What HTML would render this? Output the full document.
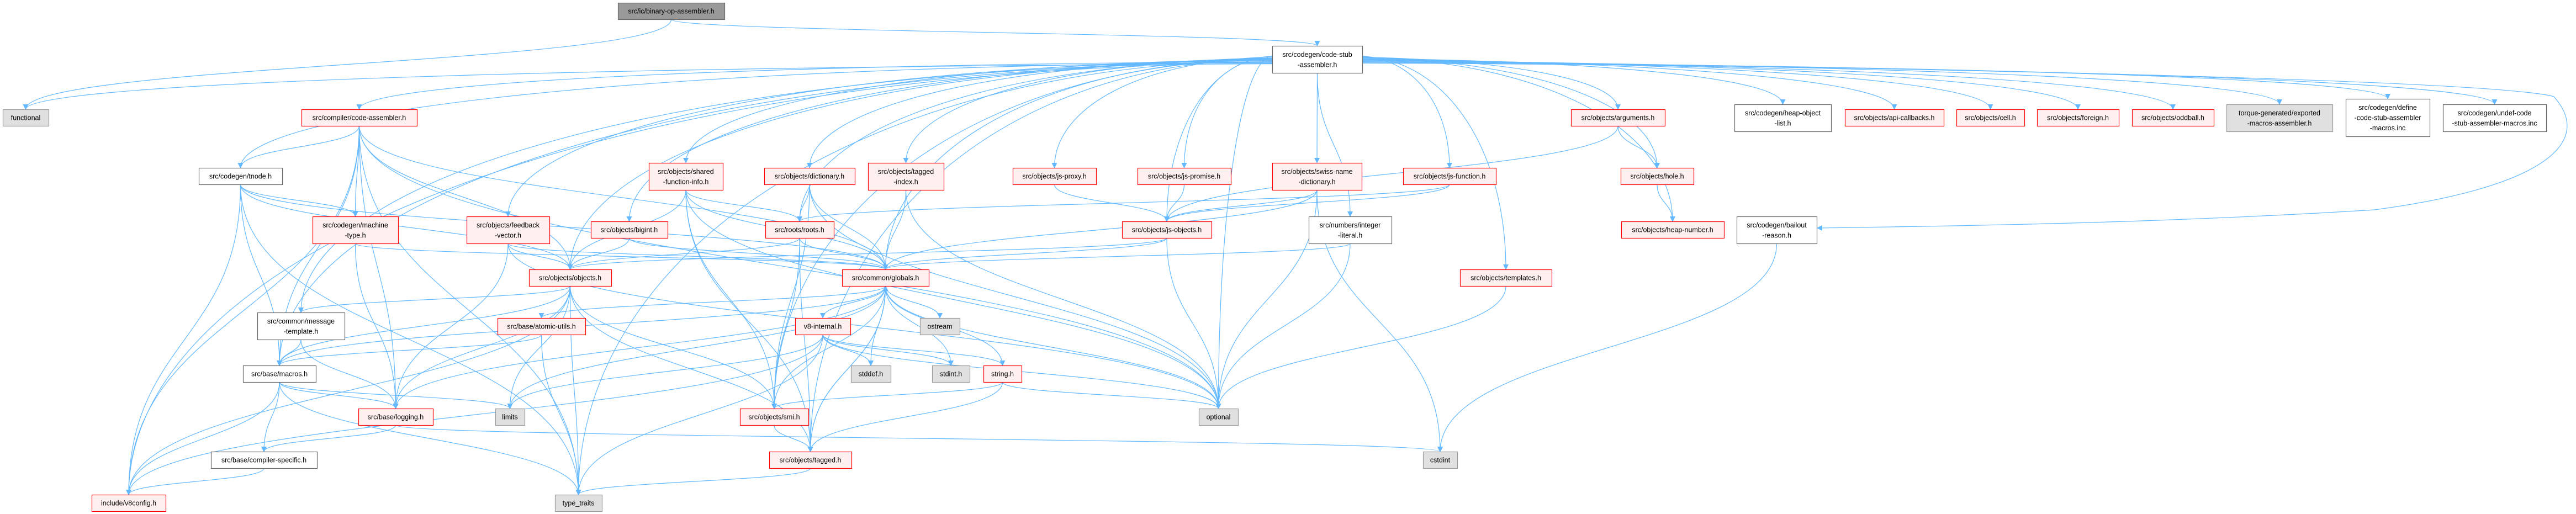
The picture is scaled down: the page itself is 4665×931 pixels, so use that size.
<!DOCTYPE html>
<html><head><meta charset="utf-8"><style>
html,body{margin:0;padding:0;background:#fff;}
svg{display:block}
text{font-family:"Liberation Sans",sans-serif;font-size:12.5px;fill:#000;text-anchor:middle}
</style></head><body>
<svg id="s" width="4665" height="931" viewBox="0 0 4665 931" xmlns="http://www.w3.org/2000/svg">
<defs><marker id="a" viewBox="0 0 10 10" refX="9" refY="5" markerWidth="10" markerHeight="10" markerUnits="userSpaceOnUse" orient="auto"><path d="M0,0 L10,5 L0,10 z" fill="#63b8ff"/></marker></defs>
<g id="e" fill="none" stroke="#63b8ff" stroke-width="1.2"></g>
<g id="n"></g>
</svg>
<script>
var N={
BOA:[1119,5,1312,35,'k',['src/ic/binary-op-assembler.h']],
functional:[5,198,88,228,'g',['functional']],
CSA:[2304,83,2467,132,'w',['src/codegen/code-stub','-assembler.h']],
CA:[546,198,755,228,'r',['src/compiler/code-assembler.h']],
tnode:[360,304,511,334,'w',['src/codegen/tnode.h']],
MT:[566,392,721,441,'r',['src/codegen/machine','-type.h']],
FV:[845,392,995,441,'r',['src/objects/feedback','-vector.h']],
bigint:[1070,401,1209,431,'r',['src/objects/bigint.h']],
SFI:[1175,295,1309,344,'r',['src/objects/shared','-function-info.h']],
OBJ:[958,488,1107,518,'r',['src/objects/objects.h']],
MSG:[466,566,624,615,'w',['src/common/message','-template.h']],
AU:[901,576,1060,606,'r',['src/base/atomic-utils.h']],
macros:[440,662,572,692,'w',['src/base/macros.h']],
logging:[649,740,784,770,'r',['src/base/logging.h']],
limits:[897,740,950,770,'g',['limits']],
CS:[382,818,574,848,'w',['src/base/compiler-specific.h']],
v8config:[166,896,300,926,'r',['include/v8config.h']],
TT:[1005,896,1090,926,'g',['type_traits']],
DICT:[1384,304,1548,334,'r',['src/objects/dictionary.h']],
TI:[1572,295,1709,344,'r',['src/objects/tagged','-index.h']],
jsproxy:[1834,304,1985,334,'r',['src/objects/js-proxy.h']],
jspromise:[2060,304,2229,334,'r',['src/objects/js-promise.h']],
roots:[1386,401,1510,431,'r',['src/roots/roots.h']],
JSO:[2032,401,2194,431,'r',['src/objects/js-objects.h']],
swiss:[2304,295,2466,344,'r',['src/objects/swiss-name','-dictionary.h']],
G:[1525,488,1682,518,'r',['src/common/globals.h']],
VI:[1440,576,1540,606,'r',['v8-internal.h']],
ostream:[1666,576,1738,606,'g',['ostream']],
stddef:[1541,662,1613,692,'g',['stddef.h']],
stdint:[1688,662,1756,692,'g',['stdint.h']],
string:[1781,662,1850,692,'r',['string.h']],
smi:[1340,740,1464,770,'r',['src/objects/smi.h']],
tagged:[1393,818,1542,848,'r',['src/objects/tagged.h']],
optional:[2171,740,2242,770,'g',['optional']],
arguments:[2845,198,3015,228,'r',['src/objects/arguments.h']],
hol:[3141,189,3316,238,'w',['src/codegen/heap-object','-list.h']],
api:[3341,198,3520,228,'r',['src/objects/api-callbacks.h']],
jsfunction:[2541,304,2709,334,'r',['src/objects/js-function.h']],
hole:[2935,304,3067,334,'r',['src/objects/hole.h']],
intlit:[2370,392,2520,441,'w',['src/numbers/integer','-literal.h']],
heapnum:[2936,401,3122,431,'r',['src/objects/heap-number.h']],
bailout:[3145,392,3290,441,'w',['src/codegen/bailout','-reason.h']],
templates:[2644,488,2810,518,'r',['src/objects/templates.h']],
cstdint:[2577,818,2639,848,'g',['cstdint']],
cell:[3543,198,3666,228,'r',['src/objects/cell.h']],
foreign:[3689,198,3837,228,'r',['src/objects/foreign.h']],
oddball:[3861,198,4009,228,'r',['src/objects/oddball.h']],
torque:[4032,189,4224,238,'g',['torque-generated/exported','-macros-assembler.h']],
define:[4248,179,4400,247,'w',['src/codegen/define','-code-stub-assembler','-macros.inc']],
undef:[4424,189,4611,238,'w',['src/codegen/undef-code','-stub-assembler-macros.inc']]
};
var E={
BOA:'functional CSA',
CSA:'functional CA tnode macros MSG OBJ FV bigint SFI roots DICT TI jsproxy jspromise JSO swiss jsfunction arguments hol api hole heapnum intlit templates cell foreign oddball torque define undef G optional tagged smi v8config TT',
CA:'tnode MT macros OBJ logging TT optional G v8config',
tnode:'MT macros v8config TT OBJ G',
MT:'logging G',
FV:'OBJ logging G optional',
bigint:'G OBJ',
SFI:'roots G smi OBJ optional tagged',
OBJ:'macros MSG logging tagged smi v8config TT limits',
MSG:'macros logging',
AU:'macros TT',
macros:'logging limits CS v8config TT',
logging:'CS cstdint',
CS:'v8config',
DICT:'roots G optional smi',
TI:'G optional',
jsproxy:'JSO',
jspromise:'JSO',
roots:'G OBJ smi tagged',
JSO:'G OBJ optional',
swiss:'JSO G optional cstdint',
G:'VI ostream stddef stdint macros logging AU limits optional tagged',
VI:'stddef stdint string optional v8config TT limits',
string:'smi tagged optional G',
smi:'tagged G',
tagged:'TT G',
arguments:'hole JSO',
hole:'heapnum',
jsfunction:'JSO roots',
intlit:'G optional',
templates:'optional',
bailout:'cstdint'
};
var ns='http://www.w3.org/2000/svg';
var eg=document.getElementById('e'),ng=document.getElementById('n');
function el(t,a,p){var x=document.createElementNS(ns,t);for(var k in a)x.setAttribute(k,a[k]);p.appendChild(x);return x;}
for(var s in E){E[s].split(' ').forEach(function(t){
 var A=N[s],B=N[t];if(!A||!B)return;
 var ax=(A[0]+A[2])/2,bx=(B[0]+B[2])/2,d;
 if(s=='CSA'&&(bx<2220||bx>2560)){
  var left=bx<2220,sx=left?A[0]:A[2],sy=100+Math.min(30,Math.abs(bx-ax)/150),ty=B[1];
  var c1=sx+(bx-sx)*0.6;
  el('path',{d:'M'+sx+','+sy+' C'+c1+','+(sy+6)+' '+bx+','+(ty-(ty-sy)*0.55)+' '+bx+','+ty,'marker-end':'url(#a)'},eg);
  return;}
 if(B[1]>A[3]){var sy=A[3],ty=B[1];d=(ty-sy)*0.5;
  el('path',{d:'M'+ax+','+sy+' C'+ax+','+(sy+d)+' '+bx+','+(ty-d)+' '+bx+','+ty,'marker-end':'url(#a)'},eg);}
 else if(B[3]<A[1]){var sy=A[1],ty=B[3];d=(sy-ty)*0.5;
  el('path',{d:'M'+ax+','+sy+' C'+ax+','+(sy-d)+' '+bx+','+(ty+d)+' '+bx+','+ty,'marker-end':'url(#a)'},eg);}
 else{var sx=bx>ax?A[2]:A[0],tx=bx>ax?B[0]:B[2],my=(A[1]+A[3])/2,ty=(B[1]+B[3])/2;
  el('path',{d:'M'+sx+','+my+' C'+((sx+tx)/2)+','+(my+80)+' '+((sx+tx)/2)+','+(ty+80)+' '+tx+','+ty,'marker-end':'url(#a)'},eg);}
});}
el('path',{d:'M2467,108 C3200,120 4500,140 4625,175 C4700,260 4600,340 4300,380 C3900,405 3500,410 3291,413','marker-end':'url(#a)'},eg);
var st={r:['#fff0f0','#ff0000'],w:['#ffffff','#666666'],g:['#e0e0e0','#999999'],k:['#999999','#666666']};
for(var k in N){var v=N[k],c=st[v[4]];
 el('rect',{x:v[0]+0.5,y:v[1]+0.5,width:v[2]-v[0],height:v[3]-v[1],fill:c[0],stroke:c[1],'stroke-width':1.2},ng);
 var L=v[5],cx=(v[0]+v[2])/2,cy=(v[1]+v[3])/2,lh=18.5;
 L.forEach(function(s,i){var t=el('text',{x:cx,y:cy+(i-(L.length-1)/2)*lh+4.5},ng);t.textContent=s;});
}
</script>
</body></html>
